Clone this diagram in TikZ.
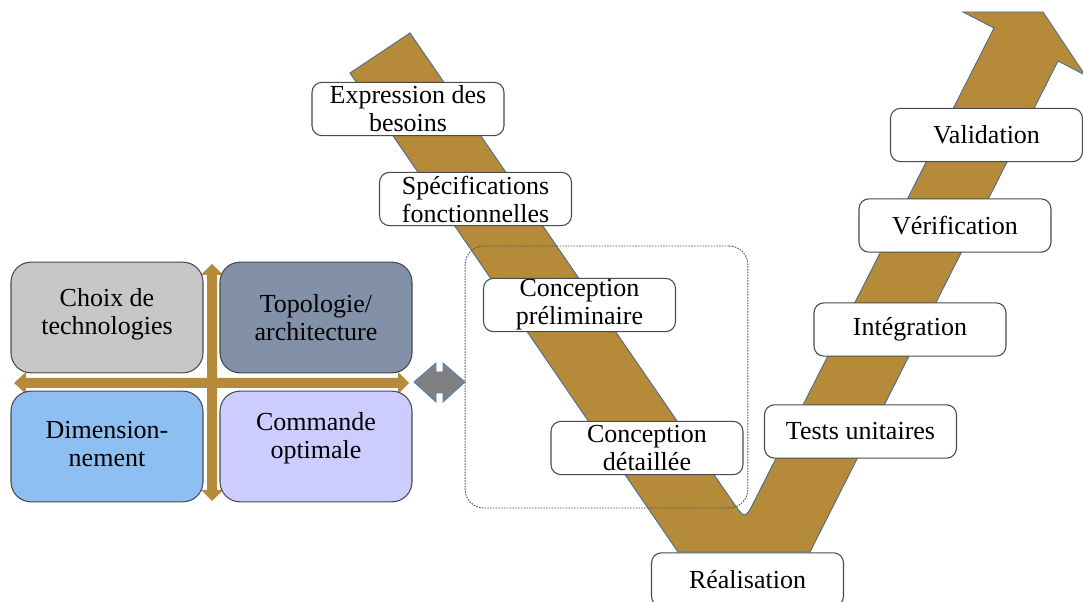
\documentclass[tikz,border=0pt]{standalone}
\usepackage{fontspec}
\setmainfont{Liberation Serif}
\usetikzlibrary{calc}
\definecolor{gold}{HTML}{B58B3A}
\definecolor{bandline}{HTML}{4E6D8C}
\definecolor{boxline}{HTML}{4A4A4A}
\definecolor{qgray}{HTML}{C7C7C7}
\definecolor{qslate}{HTML}{8290A8}
\definecolor{qblue}{HTML}{8DBFF3}
\definecolor{qlav}{HTML}{CCCCFF}
\definecolor{arrgray}{HTML}{808080}
\definecolor{arrline}{HTML}{5B7FA6}
\definecolor{dotline}{HTML}{555555}
\begin{document}
\begin{tikzpicture}[x=0.75pt,y=-0.75pt,
  txt/.style={font=\fontsize{19.5}{21}\selectfont},
  vbox/.style={txt, draw=boxline, fill=white, rounded corners=7.5pt, line width=0.8pt,
    minimum width=144pt, minimum height=40pt, inner sep=0pt, align=center},
  qbox/.style={draw=boxline, rounded corners=15pt, line width=0.8pt,
    minimum width=144pt, minimum height=83pt, inner sep=0pt},
  qtext/.style={txt, align=center, inner sep=0pt},
  band/.style={fill=gold, draw=bandline, line width=0.7pt, line join=miter}]
\path[use as bounding box, clip] (0,0) rectangle (1083,602);

% V-shaped band
\path[band] (350,73) -- (410,33) -- (732.5,501.5) .. controls (745,519.6) .. (754.9,500.0)
  -- (994,28) -- (963,12) -- (1043,12) -- (1085,75) -- (1058,61) -- (810,552) -- (678,552) -- cycle;

% dotted group
\node[draw=dotline, dash pattern=on 1.2pt off 0.9pt, line width=0.7pt, rounded corners=14pt,
  minimum width=212pt, minimum height=196.5pt, inner sep=0pt] (grp) at (606.5,377) {};

% V boxes
\node[vbox] (exp) at (408,109) {Expression des\\besoins};
\node[vbox] (spec) at (475.5,199) {Spécifications\\fonctionnelles};
\node[vbox] (cpre) at (579.5,305) {Conception\\préliminaire};
\node[vbox] (cdet) at (647,448) {Conception\\détaillée};
\node[vbox] (real) at (747.5,579.5) {Réalisation};
\node[vbox] (tu) at (860.5,431.5) {Tests unitaires};
\node[vbox] (integ) at (910,329.5) {Intégration};
\node[vbox] (verif) at (955,225.5) {Vérification};
\node[vbox] (valid) at (986.5,135) {Validation};

% gold cross arrows
\fill[gold] (14,383) -- (26,372) -- (26,378) -- (398,378) -- (398,372) -- (409,383)
  -- (398,394) -- (398,388) -- (26,388) -- (26,394) -- cycle;
\fill[gold] (212,264) -- (223,275) -- (217,275) -- (217,490) -- (223,490) -- (212,501)
  -- (201,490) -- (207,490) -- (207,275) -- (201,275) -- cycle;

% quadrant boxes
\node[qbox, fill=qgray] (choix) at (107,317.5) {};
\node[qbox, fill=qslate] (topo) at (316,317.5) {};
\node[qbox, fill=qblue] (dim) at (107,446.5) {};
\node[qbox, fill=qlav] (cmd) at (316,446.5) {};
\node[qtext] (choixt) at (107,314) {Choix de\\technologies};
\node[qtext] (topot) at (316,318) {Topologie/\\architecture};
\node[qtext] (dimt) at (107,444) {Dimension-\\nement};
\node[qtext] (cmdt) at (316,438.5) {Commande\\optimale};

% gray double arrow
\filldraw[fill=arrgray, draw=arrline, line width=0.7pt, line join=miter]
  (414,382) -- (436,363) -- (436,372) -- (443,372) -- (443,363) -- (465,382)
  -- (443,402) -- (443,393) -- (436,393) -- (436,402) -- cycle;
\end{tikzpicture}
\end{document}
